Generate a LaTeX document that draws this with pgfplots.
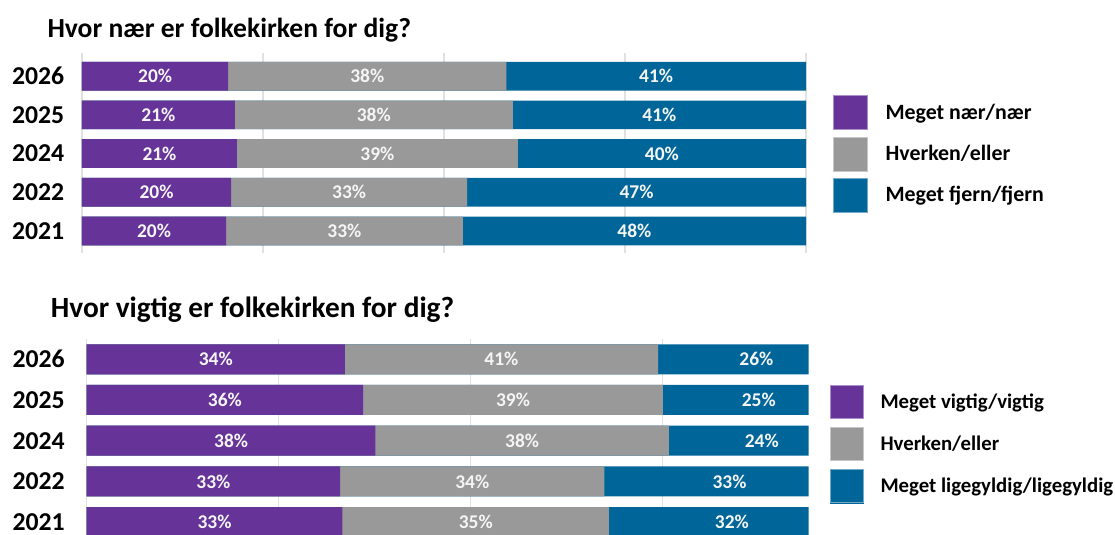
\documentclass[border=0pt]{standalone}
\usepackage{pgfplots}
\pgfplotsset{compat=1.18}
\usepackage{pgfplotstable}
\usepackage{fontspec}
\setmainfont{Carlito}
\definecolor{cPurple}{RGB}{102,51,153}
\definecolor{cGray}{RGB}{153,153,153}
\definecolor{cBlue}{RGB}{0,102,153}
\definecolor{cGrid}{RGB}{225,225,225}
\definecolor{cLab}{RGB}{245,245,245}

% bar ends (purple end, gray end, blue end)
\pgfplotstableread{
y p g b
4 20.2 58.6 100
3 21.1 59.5 100
2 21.4 60.2 100
1 20.6 53.2 100
0 19.9 52.6 100
}\topbars
\pgfplotstableread{
x y lab
10.1 4 20\%
39.4 4 38\%
79.3 4 41\%
10.55 3 21\%
40.3 3 38\%
79.75 3 41\%
10.7 2 21\%
40.8 2 39\%
80.1 2 40\%
10.3 1 20\%
36.9 1 33\%
76.6 1 47\%
9.95 0 20\%
36.25 0 33\%
76.3 0 48\%
}\toplabs
\pgfplotstableread{
y p g b
4 33.6 74.4 100
3 36.0 75.0 100
2 37.6 75.8 100
1 33.0 67.4 100
0 33.3 68.0 100
}\botbars
\pgfplotstableread{
x y lab
16.8 4 34\%
54.0 4 41\%
87.2 4 26\%
18.0 3 36\%
55.5 3 39\%
87.5 3 25\%
18.8 2 38\%
56.7 2 38\%
87.9 2 24\%
16.5 1 33\%
50.2 1 34\%
83.7 1 33\%
16.65 0 33\%
50.65 0 35\%
84.0 0 32\%
}\botlabs

\pgfplotsset{
  sq/.style={legend image code/.code={%
      \path[draw=none] (0pt,-15.75pt) -- (39pt,-15.75pt);
      \fill[#1] (0pt,-12.75pt) rectangle (25.5pt,12.75pt);
      \draw[draw=#1!55!white, line width=0.5pt] (0pt,-12.75pt) rectangle (25.5pt,12.75pt);}},
  sqb/.style={legend image code/.code={%
      \path[draw=none] (0pt,-15.4pt) -- (38pt,-15.4pt);
      \fill[#1] (0pt,-12.4pt) rectangle (24.75pt,12.4pt);
      \draw[draw=#1!55!white, line width=0.5pt] (0pt,-12.4pt) rectangle (24.75pt,12.4pt);}},
  common/.style={
    anchor=south west, scale only axis,
    xmin=0,
    axis line style={draw=none}, tick style={draw=none},
    major tick length=0pt,
    xmajorgrids, grid style={cGrid, line width=0.9pt},
    xtick={0,25,50,75,100}, xticklabels={},
    ytick={0,1,2,3,4}, yticklabels={2021,2022,2024,2025,2026},
    yticklabel style={font=\fontsize{19.3}{20}\selectfont\bfseries, anchor=east, inner sep=0pt},
    legend cell align=left,
    title style={anchor=base west, inner sep=0pt, yshift=-6.3pt},
  },
  labs/.style={draw=none, mark=none, forget plot, nodes near coords, point meta=explicit symbolic,
    every node near coord/.append style={anchor=center, font=\fontsize{14.6}{15}\selectfont\bfseries, text=cLab, inner sep=0pt}},
}

\begin{document}
\begin{tikzpicture}
\path[use as bounding box] (0pt,0pt) rectangle (836.25pt,-401.25pt);
\clip (0pt,0pt) rectangle (836.25pt,-401.25pt);

\begin{axis}[common,
  at={(61.5pt,-189.75pt)},
  width=543pt, height=150pt,
  xmax=100, ymin=-0.57, ymax=4.6,
  yticklabel style={xshift=-13.1pt},
  title={Hvor nær er folkekirken for dig?},
  title style={at={(axis description cs:-0.048,1.0815)}, font=\fontsize{20.7}{22}\selectfont\bfseries},
  legend style={at={(axis description cs:1.0373,0.79)}, anchor=north west, draw=none, fill=none,
    inner sep=0pt, row sep=2.25pt, column sep=0pt,
    font=\fontsize{16.4}{18}\selectfont\bfseries, nodes={inner sep=0pt}},
]
\addplot[xbar, bar width=21.5pt, bar shift=0pt, fill=cBlue, draw=none, forget plot] table[x=b,y=y] {\topbars};
\addplot[xbar, bar width=21.5pt, bar shift=0pt, fill=cGray, draw=none, forget plot] table[x=g,y=y] {\topbars};
\addplot[xbar, bar width=21.5pt, bar shift=0pt, fill=cPurple, draw=none, forget plot] table[x=p,y=y] {\topbars};
\addplot[labs] table[x=x,y=y,meta=lab] {\toplabs};
\addlegendimage{sq=cPurple}\addlegendentry{Meget nær/nær}
\addlegendimage{sq=cGray}\addlegendentry{Hverken/eller}
\addlegendimage{sq=cBlue}\addlegendentry{Meget fjern/fjern}
\end{axis}

\begin{axis}[common,
  at={(65.025pt,-409.875pt)},
  width=541.5pt, height=155.7pt,
  xmax=94.0, ymin=-0.6, ymax=4.5,
  yticklabel style={xshift=-16.3pt},
  title={Hvor vigtig er folkekirken for dig?},
  title style={at={(axis description cs:-0.0499,1.107)}, font=\fontsize{22}{23}\selectfont\bfseries},
  legend style={at={(axis description cs:1.0285,0.778)}, anchor=north west, draw=none, fill=none,
    inner sep=0pt, row sep=3.5pt, column sep=0pt,
    font=\fontsize{15.6}{17}\selectfont\bfseries, nodes={inner sep=0pt}},
]
\addplot[xbar, bar width=22.5pt, bar shift=0pt, fill=cBlue, draw=none, forget plot] table[x=b,y=y] {\botbars};
\addplot[xbar, bar width=22.5pt, bar shift=0pt, fill=cGray, draw=none, forget plot] table[x=g,y=y] {\botbars};
\addplot[xbar, bar width=22.5pt, bar shift=0pt, fill=cPurple, draw=none, forget plot] table[x=p,y=y] {\botbars};
\addplot[labs] table[x=x,y=y,meta=lab] {\botlabs};
\addlegendimage{sqb=cPurple}\addlegendentry{Meget vigtig/vigtig}
\addlegendimage{sqb=cGray}\addlegendentry{Hverken/eller}
\addlegendimage{sqb=cBlue}\addlegendentry{Meget ligegyldig/ligegyldig}
\end{axis}
\end{tikzpicture}
\end{document}
